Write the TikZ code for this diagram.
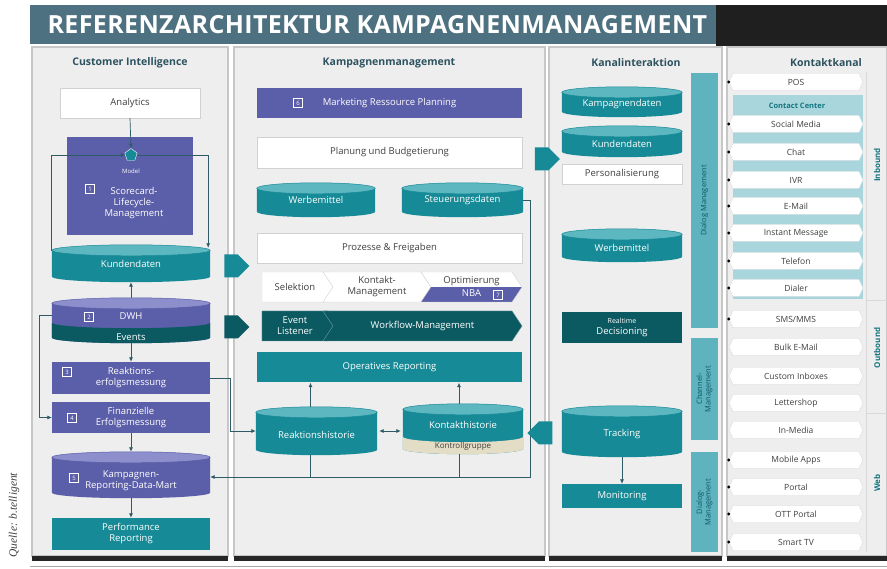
\documentclass[tikz,border=0pt]{standalone}
\usepackage{fontspec}
\setmainfont{Open Sans}
\newfontfamily\quellefont{Liberation Serif}
\newfontfamily\titlefont[LetterSpace=1.5]{Open Sans}
\usetikzlibrary{arrows.meta, positioning, calc, shapes.symbols, shapes.geometric}

\definecolor{slate}{HTML}{4D7180}
\definecolor{lila}{HTML}{5B5EA8}
\definecolor{lilalid}{HTML}{8C8FCC}
\definecolor{petrol}{HTML}{168A96}
\definecolor{petrollid}{HTML}{5DB7C1}
\definecolor{deep}{HTML}{0B5961}
\definecolor{barteal}{HTML}{5EB3BF}
\definecolor{ccbg}{HTML}{A9D6DD}
\definecolor{head}{HTML}{2D5260}
\definecolor{panel}{HTML}{EEEEEE}
\definecolor{ink}{HTML}{3F3F3F}
\definecolor{lnk}{HTML}{2E5B66}
\definecolor{sand}{HTML}{E4DDC5}

\pgfdeclarelayer{back}
\pgfdeclarelayer{bg}
\pgfsetlayers{back,bg,main}

% body and lid of a data store around a node
\newcommand\dbfill[3]{%
  \begin{pgfonlayer}{bg}
    \fill[#2] let \p1=(#1.north west), \p2=(#1.south east), \n1={(\x2-\x1)/2} in
      (\x1,\y1-5.5pt) -- (\x1,\y2+5.5pt)
      arc[start angle=180, end angle=360, x radius=\n1, y radius=5.5pt]
      -- (\x2,\y1-5.5pt) -- cycle;
    \filldraw[fill=#3, draw=#2, line width=0.5pt] let \p1=(#1.north west), \p2=(#1.south east), \n1={(\x2-\x1)/2} in
      (\x1/2+\x2/2,\y1-5.5pt) ellipse[x radius=\n1, y radius=5.5pt];
  \end{pgfonlayer}}
% coloured ring at the foot of a data store
\newcommand\dbband[3]{%
  \begin{pgfonlayer}{bg}
    \fill[#2] let \p1=(#1.north west), \p2=(#1.south east), \n1={(\x2-\x1)/2} in
      (\x1,\y2+5.5pt+#3pt) -- (\x1,\y2+5.5pt)
      arc[start angle=180, end angle=360, x radius=\n1, y radius=5.5pt]
      -- (\x2,\y2+5.5pt+#3pt)
      arc[start angle=0, end angle=-180, x radius=\n1, y radius=5.5pt] -- cycle;
  \end{pgfonlayer}}

\begin{document}
\begin{tikzpicture}[x=1pt, y=-1pt, >={Latex[length=4.5pt,width=4pt]},
  font=\fontsize{9.5}{11}\selectfont,
  head/.style={font=\bfseries\fontsize{10.5}{12}\selectfont, text=head},
  box/.style={rectangle, minimum height=30, inner sep=1pt, align=center},
  wbox/.style={box, fill=white, draw=black!18, text=ink},
  pbox/.style={box, fill=lila, text=white},
  tbox/.style={box, fill=petrol, text=white},
  dbox/.style={box, fill=deep, text=white},
  db/.style={rectangle, inner sep=0pt, align=center, text=white},
  nr/.style={draw=white, text=white, minimum size=9, inner sep=0pt, line width=0.5pt,
    font=\fontsize{6}{6}\selectfont},
  stage/.style={signal, signal to=east, signal pointer angle=113, minimum height=30,
    inner sep=1pt, align=center, fill=white, draw=black!18, text=ink},
  flow/.style={stage, fill=deep, draw=white!40!deep, text=white},
  blk/.style={signal, signal to=east, fill=petrol, minimum width=25, minimum height=23,
    inner sep=0pt},
  chan/.style={signal, signal to=east and west, signal pointer angle=130, fill=white,
    draw=black!15, minimum width=134, minimum height=17, inner sep=0pt, text=ink,
    font=\fontsize{8.5}{9}\selectfont},
  bar/.style={rectangle, rotate=90, fill=barteal, minimum height=27, inner sep=0pt,
    align=center, text=deep, font=\fontsize{7.5}{8.5}\selectfont},
  side/.style={rotate=90, text=petrol!85!black, font=\bfseries\fontsize{8}{9}\selectfont},
  lnk/.style={draw=lnk, line width=0.7pt}]

\useasboundingbox (0,0) rectangle (887,569);

\begin{pgfonlayer}{back}
  \fill[slate] (30,5) rectangle (716,44);
  \fill[black!88] (716,5) rectangle (887,46);
  \foreach \a/\b in {32/228, 234/545, 549/722, 727/887} {
    \filldraw[fill=panel, draw=black!22, line width=1.2pt] (\a,47) rectangle (\b,556);
    \fill[black!85] (\a,556) rectangle (\b,561);
  }
  \draw[black!35, line width=0.8pt] (30,566) -- (887,566);
  \fill[ccbg] (733,95) rectangle (863,299);
  \draw[black!15] (866,72) -- (866,552) (866,300) -- (887,300) (866,413) -- (887,413);
\end{pgfonlayer}

\node[anchor=west, text=white, font=\titlefont\bfseries\fontsize{25}{25}\selectfont] (title) at (44,25)
  {REFERENZARCHITEKTUR KAMPAGNENMANAGEMENT};
\node[rotate=90, anchor=west, text=ink, font=\quellefont\itshape\fontsize{11.5}{12}\selectfont]
  (quelle) at (14,561) {Quelle: b.telligent};

\node[head] (hci) at (130,63) {Customer Intelligence};
\node[head] (hkm) at (389,63) {Kampagnenmanagement};
\node[head] (hki) at (636,63) {Kanalinteraktion};
\node[head] (hkk) at (826,63) {Kontaktkanal};

% Customer Intelligence
\node[wbox, minimum width=140] (analytics) at (130,103) {Analytics};
\node[pbox, minimum width=126, minimum height=98] (model) at (130,186) {};
\node[regular polygon, regular polygon sides=5, fill=petrol, draw=white, minimum size=13,
  inner sep=0pt] (mdl) at (131,155) {};
\node[text=white, font=\fontsize{6}{7}\selectfont] (mdltxt) at (131,171) {Model};
\node[text=white, align=center] (score) at (134,203) {Scorecard-\\Lifecycle-\\Management};
\node[nr] (n1) at (90,189) {1};

\node[db, minimum width=158, minimum height=37,
  label={[text=white]center:Kundendaten}] (kd) at (131,263.5) {};
\dbfill{kd}{petrol}{petrollid}

\node[db, minimum width=158, minimum height=45] (dwh) at (131,320.5) {};
\dbfill{dwh}{lila}{lilalid}
\dbband{dwh}{deep}{15}
\node[text=white] (dwhtxt) at (131,316) {DWH};
\node[nr] (n2) at (89,317) {2};
\node[text=white] (events) at (131,337) {Events};

\node[pbox, minimum width=158, minimum height=32] (reak) at (131,378) {Reaktions-\\erfolgsmessung};
\node[nr] (n3) at (67,372) {3};
\node[pbox, minimum width=158, minimum height=31] (fin) at (131,417.5) {Finanzielle\\Erfolgsmessung};
\node[nr] (n4) at (72,418) {4};

\node[db, minimum width=158, minimum height=46,
  label={[text=white, align=center, yshift=-6]center:{Kampagnen-\\Reporting-Data-Mart}}] (mart) at (131,475) {};
\dbfill{mart}{lila}{lilalid}
\node[nr] (n5) at (74,478) {5};
\node[tbox, minimum width=158, minimum height=32] (perf) at (131,534) {Performance\\Reporting};

\draw[lnk, ->] (analytics.south) -- (mdl.north);
\draw[lnk, ->] ([yshift=-6]kd.north west) |- (mdl.west);
\draw[lnk, ->] (mdl.east) -| ([xshift=-2,yshift=-3]kd.north east);
\draw[lnk, ->] (dwh.north) -- (kd.south);
\draw[lnk, ->] (dwh.south) -- (reak.north);
\draw[lnk, ->] ([yshift=5]dwh.west) -- ++(-12,0) |- (fin.west);
\draw[lnk, ->] (fin.south) -- (mart.north);
\draw[lnk, ->] (mart.south) -- (perf.north);

% Kampagnenmanagement
\node[pbox, minimum width=265] (mrp) at (389.5,103) {Marketing Ressource Planning};
\node[nr] (n6) at (298,103) {6};
\node[wbox, minimum width=265, minimum height=31] (plan) at (389.5,152.5) {Planung und Budgetierung};
\node[db, minimum width=118, minimum height=34,
  label={[text=white]center:Werbemittel}] (werbe) at (316,200) {};
\dbfill{werbe}{petrol}{petrollid}
\node[db, minimum width=121, minimum height=34,
  label={[text=white]center:Steuerungsdaten}] (steuer) at (462.5,200) {};
\dbfill{steuer}{petrol}{petrollid}
\node[wbox, minimum width=265] (proz) at (389.5,248) {Prozesse \& Freigaben};

\node[stage, minimum width=76] (sel) at (295,287) {Selektion};
\node[stage, signal from=west, minimum width=108] (kom) at (377,287) {Kontakt-\\Management};
\node[stage, signal from=west, minimum width=101,
  path picture={\fill[lila] (path picture bounding box.west) rectangle (path picture bounding box.south east);}]
  (opt) at (471.5,287) {Optimierung\\[2pt]\textcolor{white}{NBA}};
\node[nr] (n7) at (498,295) {7};

\node[flow, minimum width=76] (evl) at (295,326) {Event\\Listener};
\node[flow, signal from=west, minimum width=199] (wfm) at (422.5,326) {Workflow-Management};
\node[tbox, minimum width=265] (oprep) at (389.5,367.5) {Operatives Reporting};

\node[db, minimum width=121, minimum height=48,
  label={[text=white, yshift=-4]center:Reaktionshistorie}] (rhist) at (316.5,431) {};
\dbfill{rhist}{petrol}{petrollid}
\node[db, minimum width=120, minimum height=50,
  label={[text=white, yshift=4]center:Kontakthistorie}] (khist) at (463,429) {};
\dbfill{khist}{petrol}{petrollid}
\dbband{khist}{sand}{12}
\node[text=ink, font=\fontsize{8}{9}\selectfont] (kgrp) at (463,446) {Kontrollgruppe};

\coordinate (bus) at (530,477);
\draw[lnk, ->] ([xshift=-6]rhist.north) -- ([xshift=-6]rhist.north |- oprep.south);
\draw[lnk, ->] ([xshift=-4]khist.north) -- ([xshift=-4]khist.north |- oprep.south);
\draw[lnk, <->, shorten <=2pt, shorten >=2pt] (rhist.east) -- (khist.west |- rhist.east);
\draw[lnk] ([xshift=-6]rhist.south) -- ([xshift=-6]rhist.south |- bus);
\draw[lnk] ([xshift=-4]khist.south) -- ([xshift=-4]khist.south |- bus);
\draw[lnk, ->] (steuer.east) -- (steuer.east -| bus) -- (bus) -- (mart.east |- bus);
\draw[lnk, ->] (reak.east) -- ++(20,0) |- (rhist.west);

\node[blk] (b1) at (231,266) {};
\node[blk, fill=deep] (b2) at (231,327) {};
\node[blk] (b3) at (541.5,159) {};
\node[blk, signal to=west] (b4) at (545.5,433) {};

% Kanalinteraktion
\node[db, minimum width=120, minimum height=30,
  label={[text=white, yshift=-2]center:Kampagnendaten}] (kampd) at (622,102) {};
\dbfill{kampd}{petrol}{petrollid}
\node[db, minimum width=120, minimum height=31,
  label={[text=white, yshift=-2]center:Kundendaten}] (kd2) at (622,141.5) {};
\dbfill{kd2}{petrol}{petrollid}
\node[wbox, minimum width=120, minimum height=20] (pers) at (622,174) {Personalisierung};
\node[db, minimum width=120, minimum height=33,
  label={[text=white, yshift=-2]center:Werbemittel}] (werbe2) at (622,245.5) {};
\dbfill{werbe2}{petrol}{petrollid}
\node[dbox, minimum width=120, minimum height=31] (rtd) at (622,327.5)
  {{\fontsize{7}{8}\selectfont Realtime}\\Decisioning};
\node[db, minimum width=120, minimum height=51,
  label={[text=white, yshift=-3]center:Tracking}] (track) at (622,431.5) {};
\dbfill{track}{petrol}{petrollid}
\node[tbox, minimum width=120, minimum height=24] (mon) at (622,496) {Monitoring};
\draw[lnk, ->] (track.south) -- (mon.north);

\node[bar, minimum width=255] (dlg) at (704.5,200.5) {Dialog Management};
\node[bar, minimum width=102] (chm) at (704.5,389) {Channel-\\Management};
\node[bar, minimum width=100] (dlg2) at (704.5,502) {Dialog-\\Management};

% Kontaktkanal
\node[text=petrol!85!black, font=\bfseries\fontsize{7.5}{8}\selectfont] (cc) at (797,106) {Contact Center};
\foreach \y/\t/\m [count=\i] in {82/POS/1, 124/Social Media/1, 152/Chat/1, 180/IVR/1,
    206/E-Mail/1, 233/Instant Message/1, 261/Telefon/1, 288/Dialer/1, 319/{SMS/MMS}/1,
    347/Bulk E-Mail/0, 376/Custom Inboxes/0, 403/Lettershop/0, 430/In-Media/0,
    460/Mobile Apps/1, 487/Portal/1, 514/OTT Portal/1, 542/Smart TV/1} {
  \node[chan] (k\i) at (796,\y) {\t};
  \ifnum\m=1 \fill[black] (k\i.west) circle (1.6); \fi
}
\node[side] (inb) at (877,165) {Inbound};
\node[side] (outb) at (877,348) {Outbound};
\node[side] (web) at (877,483) {Web};

\end{tikzpicture}
\end{document}
